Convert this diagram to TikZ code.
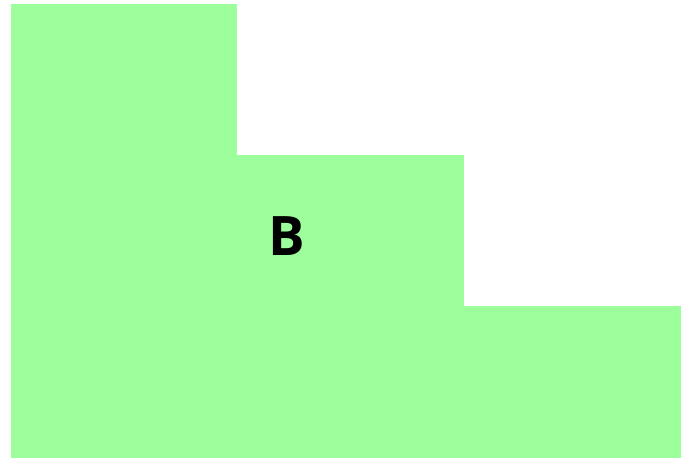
\documentclass[tikz,border=0pt]{standalone}
\usepackage{fontspec}
\newfontfamily\labelfont{Open Sans}
\definecolor{stepgreen}{RGB}{157,255,155}
\begin{document}
\begin{tikzpicture}[
  x=0.02cm, y=0.02cm,
  block/.style={fill=stepgreen, draw=none},
  tag/.style={font=\labelfont\bfseries\fontsize{31}{31}\selectfont, text=black, inner sep=0pt}
]
\useasboundingbox (0,0) rectangle (681,458);
\fill[block] (11,303) rectangle (237,454);
\fill[block] (11,152) rectangle (464,303);
\fill[block] (11,0) rectangle (681,152);
\node[tag] (b) at (287,222) {B};
\end{tikzpicture}
\end{document}
